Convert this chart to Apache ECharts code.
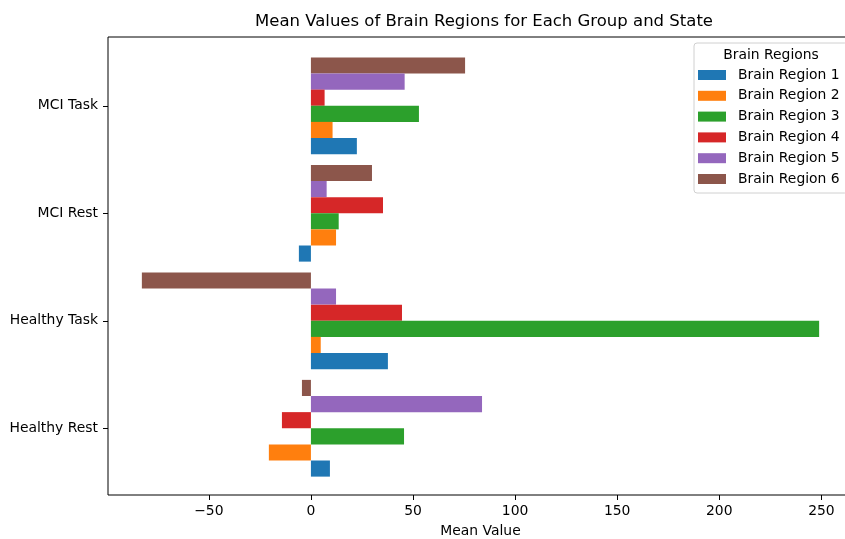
<!DOCTYPE html>
<html>
<head>
<meta charset="utf-8">
<script src="https://cdn.jsdelivr.net/npm/echarts@6/dist/echarts.min.js"></script>
<style>
  html, body { margin: 0; padding: 0; background: #fff; }
  #chart { width: 845px; height: 539px; }
</style>
</head>
<body>
<div id="chart"></div>
<script>
// Group/state categories, bottom to top
const categories = ['Healthy Rest', 'Healthy Task', 'MCI Rest', 'MCI Task'];
// Mean value per brain region, one entry per category
const region1 = [9.3, 37.7, -5.9, 22.5];
const region2 = [-20.6, 4.8, 12.3, 10.6];
const region3 = [45.6, 248.9, 13.6, 52.9];
const region4 = [-14.2, 44.6, 35.3, 6.7];
const region5 = [83.8, 12.3, 7.7, 45.9];
const region6 = [-4.4, -82.8, 29.9, 75.5];
const regionNames = ['Brain Region 1', 'Brain Region 2', 'Brain Region 3',
                     'Brain Region 4', 'Brain Region 5', 'Brain Region 6'];
const xTicks = [-50, 0, 50, 100, 150, 200, 250];

const regions = [region1, region2, region3, region4, region5, region6];
const colors = ['#1f77b4', '#ff7f0e', '#2ca02c', '#d62728', '#9467bd', '#8c564b'];

// value range with a 5% margin on each side
const all = regions.flat().concat([0]);
const lo = Math.min(...all), hi = Math.max(...all);
const pad = (hi - lo) * 0.05;
const xMin = lo - pad, xMax = hi + pad;

const FONT = 'DejaVu Sans';
const chart = echarts.init(document.getElementById('chart'), null, { renderer: 'canvas' });

// series listed last-to-first so Region 1 sits at the bottom of each band
const series = regions.map((vals, i) => ({
  name: regionNames[i],
  type: 'bar',
  xAxisIndex: 1, yAxisIndex: 1,
  data: vals,
  barGap: '0%',
  barCategoryGap: '10%',
  itemStyle: { color: colors[i] }
})).reverse();

chart.setOption({
  animation: false,
  backgroundColor: '#fff',
  title: {
    text: 'Mean Values of Brain Regions for Each Group and State',
    left: 479, top: 8, textAlign: 'center',
    textStyle: { fontFamily: FONT, fontSize: 16.5, fontWeight: 'normal', color: '#000' }
  },
  grid: [
    // outer frame with the value axis
    { left: 108, width: 745, top: 37, bottom: 44, outerBoundsMode: 'none', containLabel: false,
      show: true, borderColor: '#000', borderWidth: 1, backgroundColor: 'transparent' },
    // bar area (category bands)
    { left: 108, width: 745, top: 52, bottom: 57, outerBoundsMode: 'none', containLabel: false }
  ],
  xAxis: [
    {
      gridIndex: 0, type: 'value', min: xMin, max: xMax,
      axisLine: { show: false },
      splitLine: { show: false },
      axisTick: { show: true, length: 5, lineStyle: { color: '#000' }, customValues: xTicks },
      axisLabel: { fontFamily: FONT, fontSize: 13.9, color: '#000', margin: 9, customValues: xTicks,
                   formatter: v => (v < 0 ? '\u2212' + Math.abs(v) : String(v)) },
      name: 'Mean Value', nameLocation: 'middle', nameGap: 29,
      nameTextStyle: { fontFamily: FONT, fontSize: 13.9, color: '#000' }
    },
    {
      gridIndex: 1, type: 'value', min: xMin, max: xMax, show: false,
      axisLine: { onZero: false },
      splitLine: { show: false }
    }
  ],
  yAxis: [
    { gridIndex: 0, type: 'value', show: false, axisLine: { onZero: false }, splitLine: { show: false } },
    {
      gridIndex: 1, type: 'category', data: categories, position: 'left',
      axisLine: { show: false, onZero: false },
      axisTick: { show: true, alignWithLabel: true, length: 5, lineStyle: { color: '#000' } },
      axisLabel: { fontFamily: FONT, fontSize: 13.9, color: '#000', margin: 10 }
    }
  ],
  legend: {
    orient: 'vertical',
    left: 694, top: 43,
    padding: [25, 8, 7, 4],
    backgroundColor: '#fff',
    borderColor: '#d0d0d0', borderWidth: 1, borderRadius: 3,
    itemWidth: 28, itemHeight: 10, itemGap: 6.8,
    icon: 'rect',
    data: regionNames,
    textStyle: { fontFamily: FONT, fontSize: 13.9, color: '#000', lineHeight: 14, padding: [0, 0, 0, 7] }
  },
  graphic: [
    {
      type: 'text', x: 771, y: 48,
      style: { text: 'Brain Regions', fontFamily: FONT, fontSize: 13.9, fill: '#000', align: 'center', textAlign: 'center' },
      z: 100
    }
  ],
  series: series
});
</script>
</body>
</html>
